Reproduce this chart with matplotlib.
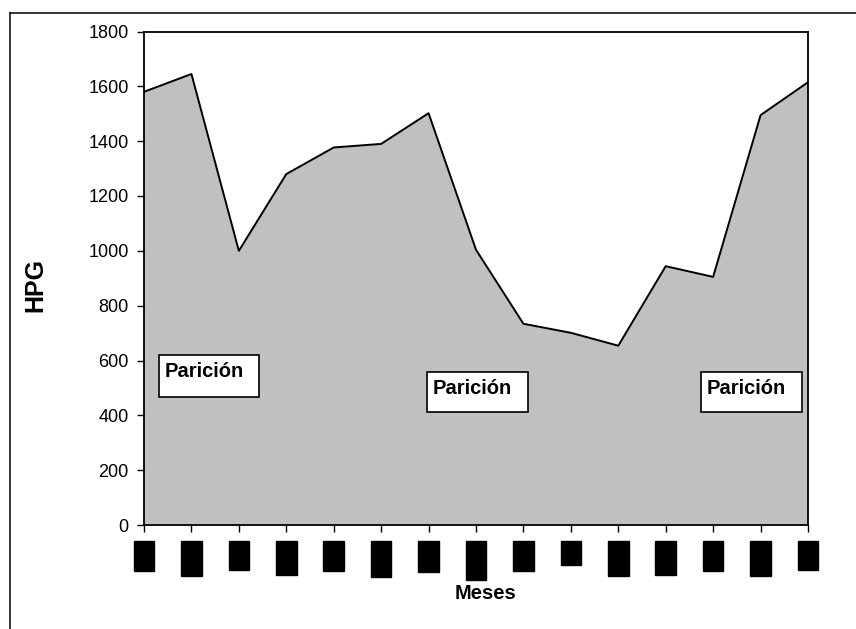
import matplotlib.pyplot as plt
from matplotlib.lines import Line2D
from matplotlib.patches import Rectangle

plt.rcParams['font.family'] = ['Liberation Sans', 'DejaVu Sans']

# === DATA ===
meses = ["oct", "nov", "dic", "ene", "feb", "mar", "abr", "may",
         "jun", "jul", "ago", "sep", "oct", "nov", "dic"]
hpg = [1580, 1645, 1000, 1280, 1377, 1390, 1502, 1004,
       734, 701, 654, 944, 905, 1495, 1615]
etiqueta = "Parición"

W, H = 856, 629
fig = plt.figure(figsize=(W / 100, H / 100), dpi=100)
ax = fig.add_axes([144 / W, 1 - 525 / H, (808 - 144) / W, (525 - 31.5) / H])

x = list(range(len(hpg)))
ax.fill_between(x, hpg, 0, facecolor="#c0c0c0", edgecolor="none")
ax.plot(x, hpg, color="black", lw=1.4)

ax.set_xlim(0, len(hpg) - 1)
ax.set_ylim(0, 1800)
ax.set_yticks(range(0, 1801, 200))
ax.set_xticks(x)
ax.set_xticklabels(meses, rotation=90, color="black", fontsize=10, fontweight="bold",
                   va="top", bbox=dict(facecolor="black", edgecolor="black", pad=1.0))
ax.tick_params(axis="both", labelsize=13, length=5, width=1, direction="out")
ax.tick_params(axis="y", pad=6)
ax.tick_params(axis="x", pad=7.5)
for s in ax.spines.values():
    s.set_linewidth(1.3)

ax.set_ylabel("HPG", fontsize=18, fontweight="bold")
ax.yaxis.set_label_coords(-0.146, 0.486)
ax.set_xlabel("Meses", fontsize=14.5, fontweight="bold")
ax.xaxis.set_label_coords(0.514, -0.119)

# cuadros "Parición" (posición en fracción de ejes)
cuadros = [(0.0226, 0.259, 0.1506, 0.0851),
           (0.426, 0.229, 0.152, 0.081),
           (0.839, 0.229, 0.152, 0.081)]
for bx, by, bw, bh in cuadros:
    ax.add_patch(Rectangle((bx, by), bw, bh, transform=ax.transAxes,
                           facecolor="white", edgecolor="black", lw=1.2, zorder=3))
    ax.text(bx + 6 / 664, by + bh - 22 / 493.5, etiqueta, transform=ax.transAxes,
            fontsize=14.5, fontweight="bold", ha="left", va="baseline", zorder=4)

# marco exterior (solo arriba e izquierda)
fig.add_artist(Line2D([10 / W, 1], [1 - 13.3 / H, 1 - 13.3 / H], color="black", lw=1.1))
fig.add_artist(Line2D([10 / W, 10 / W], [0, 1 - 13.3 / H], color="black", lw=1.1))

fig.savefig("out.png", dpi=100)
